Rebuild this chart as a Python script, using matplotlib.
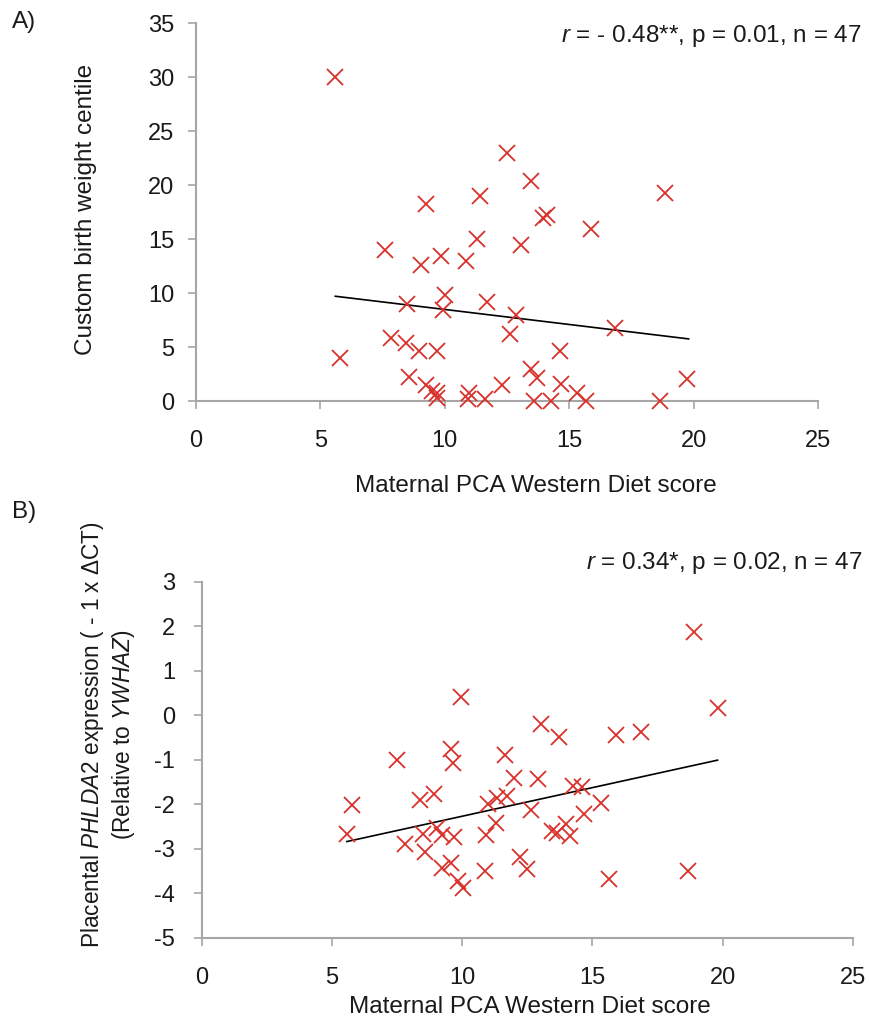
import matplotlib
matplotlib.use("Agg")
import matplotlib.pyplot as plt

plt.rcParams['font.family'] = ['Liberation Sans', 'DejaVu Sans']
plt.rcParams['mathtext.fontset'] = 'custom'
plt.rcParams['mathtext.rm'] = 'Liberation Sans'
plt.rcParams['mathtext.it'] = 'Liberation Sans:italic'
plt.rcParams['axes.unicode_minus'] = False

# Panel A data: Western diet score vs custom birth weight centile
a_x = [5.6, 12.5, 11.4, 9.26, 11.3, 7.6, 9.84, 9.06, 10.87, 10.0, 9.93, 8.49,
       11.71, 13.05, 12.85, 12.64, 7.83, 8.43, 8.97, 9.69, 5.78, 8.57, 9.24,
       9.5, 9.67, 9.7, 10.98, 10.94, 11.6, 12.3, 13.48, 18.84, 13.95, 14.12,
       15.86, 16.83, 14.62, 13.45, 13.72, 14.69, 19.75, 13.59, 14.26, 15.33,
       15.66, 18.63]
a_y = [30.0, 23.0, 19.0, 18.2, 15.0, 14.0, 13.45, 12.6, 12.96, 9.8, 8.4, 8.95,
       9.2, 14.4, 8.0, 6.2, 5.8, 5.4, 4.6, 4.6, 3.95, 2.25, 1.5,
       0.9, 0.7, 0.3, 0.7, 0.2, 0.2, 1.5, 20.4, 19.3, 16.9, 17.2,
       15.9, 6.8, 4.6, 2.96, 2.1, 1.6, 2.0, 0.0, 0.0, 0.7,
       0.0, 0.0]
a_trend_x = [5.6, 19.8]
a_trend_y = [9.7, 5.75]

# Panel B data: Western diet score vs placental PHLDA2 expression
b_x = [9.95, 7.51, 9.56, 9.64, 11.65, 11.97, 5.76, 8.38, 8.93, 10.98, 11.33,
       11.71, 5.57, 8.51, 9.02, 9.24, 9.7, 10.92, 11.3, 7.81, 8.58, 9.22, 9.57,
       10.88, 9.83, 10.02, 12.22, 12.48, 18.88, 19.8, 13.03, 13.72, 15.9, 16.86,
       12.9, 14.25, 14.59, 12.65, 15.33, 14.69, 13.44, 13.63, 13.98, 14.14,
       15.65, 18.66]
b_y = [0.41, -1.0, -0.77, -1.08, -0.89, -1.4, -2.02, -1.91, -1.78, -2.0, -1.87,
       -1.82, -2.68, -2.66, -2.53, -2.69, -2.73, -2.69, -2.43, -2.9, -3.08, -3.44,
       -3.32, -3.49, -3.73, -3.88, -3.18, -3.46, 1.86, 0.17, -0.19, -0.49, -0.44,
       -0.37, -1.44, -1.59, -1.61, -2.14, -1.97, -2.23, -2.6, -2.64, -2.45, -2.72,
       -3.67, -3.49]
b_trend_x = [5.57, 19.8]
b_trend_y = [-2.84, -1.01]

a_yticks = [0, 5, 10, 15, 20, 25, 30, 35]
b_yticks = [-5, -4, -3, -2, -1, 0, 1, 2, 3]
xticks = [0, 5, 10, 15, 20, 25]

W, H = 869, 1029
fig = plt.figure(figsize=(W / 100, H / 100), dpi=100)


def px(x, y):
    return x / W, 1 - y / H


axA = fig.add_axes([196 / W, 1 - 401 / H, (818 - 196) / W, (401 - 23) / H])
axB = fig.add_axes([201.7 / W, 1 - 937.7 / H, (853 - 201.7) / W, (937.7 - 581.7) / H])

red = '#d9302a'
spine_col = '#a6a6a6'
text_col = '#1a1a1a'
FS = 17.5
TFS = 17

for ax, ypad in ((axA, 9.5), (axB, 13)):
    for s in ('top', 'right'):
        ax.spines[s].set_visible(False)
    for s in ('left', 'bottom'):
        ax.spines[s].set_color(spine_col)
        ax.spines[s].set_linewidth(1.5)
    ax.tick_params(direction='out', length=6, width=1.2, color=spine_col,
                   labelsize=TFS, labelcolor=text_col)
    ax.tick_params(axis='x', pad=15)
    ax.tick_params(axis='y', pad=ypad)
    ax.set_xticks(xticks)
    ax.set_xlim(0, 25)

axA.plot(a_x, a_y, linestyle='none', marker='x', markersize=11,
         markeredgewidth=1.3, color=red, clip_on=False, zorder=3)
axA.plot(a_trend_x, a_trend_y, color='black', lw=1.2, zorder=2)
axA.set_ylim(0, 35)
axA.set_yticks(a_yticks)

axB.plot(b_x, b_y, linestyle='none', marker='x', markersize=11,
         markeredgewidth=1.3, color=red, clip_on=False, zorder=3)
axB.plot(b_trend_x, b_trend_y, color='black', lw=1.2, zorder=2)
axB.set_ylim(-5, 3)
axB.set_yticks(b_yticks)

# Axis titles and annotations placed at their pixel positions
fig.text(*px(536, 486), 'Maternal PCA Western Diet score', fontsize=FS,
         ha='center', va='center', color=text_col)
fig.text(*px(530, 1007), 'Maternal PCA Western Diet score', fontsize=FS,
         ha='center', va='center', color=text_col)
fig.text(*px(86, 209), 'Custom birth weight centile', fontsize=FS, rotation=90,
         ha='center', va='center', color=text_col)
fig.text(*px(108, 735),
         'Placental $\\it{PHLDA2}$ expression ( - 1 x ΔCT)\n(Relative to $\\it{YWHAZ}$)',
         fontsize=16.3, rotation=90, ha='center', va='center', multialignment='center',
         linespacing=1.2, color=text_col)
fig.text(*px(862, 36), r'$\it{r}$ = - 0.48**, p = 0.01, n = 47', fontsize=FS,
         ha='right', va='center', color=text_col)
fig.text(*px(862, 563), r'$\it{r}$ = 0.34*, p = 0.02, n = 47', fontsize=FS,
         ha='right', va='center', color=text_col)

fig.text(*px(12, 22), 'A)', fontsize=FS, ha='left', va='center', color=text_col)
fig.text(*px(12, 512), 'B)', fontsize=FS, ha='left', va='center', color=text_col)

fig.savefig('out.png', dpi=100, facecolor='white')
